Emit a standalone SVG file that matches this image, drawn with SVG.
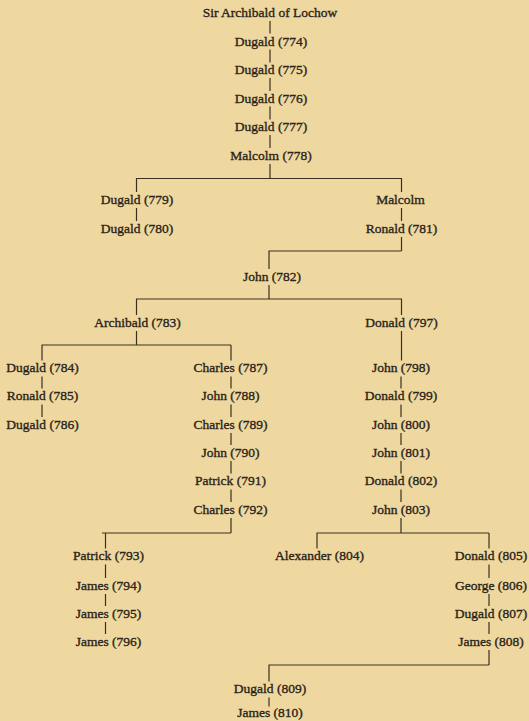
<svg xmlns="http://www.w3.org/2000/svg" width="529" height="721" viewBox="0 0 529 721">
<style>
.bg{fill:#efd8a0}
.n text{font-family:"Liberation Serif","Times New Roman",serif;font-size:13.5px;fill:#2a2419;stroke:#2a2419;stroke-width:0.35;text-anchor:middle}
.c{stroke:#3a3020;stroke-width:1.2;fill:none}
</style>
<rect class="bg" x="0" y="0" width="529" height="721"/>
<g id="connectors" class="c">
<path d="M270 21V33.5M270 49.5V62.5M270 78V91M270 106.5V119.5M270 135V148M270 164V178.5"/>
<path d="M136 178.5H402M136.5 178.5V192M136.5 208V221M401.5 178.5V192M401.5 208V221M401.5 237V251"/>
<path d="M268.5 251H401.5M269 251V269M269 285V299"/>
<path d="M136 299H402M136.5 299V315M136.5 331V345M401.5 299V315M401.5 331V360.5"/>
<path d="M41.5 345H231M42 345V360.5M42 376.5V388.5M42 404.5V417"/>
<path d="M231 345V360.5M231 376.5V388.5M231 404.5V417M231 433V445M231 461V473.5M231 489.5V502M231 518V533"/>
<path d="M401 376.5V388.5M401 404.5V417M401 433V445M401 461V473.5M401 489.5V502M401 518V533"/>
<path d="M102 533H231M105.5 533V548.5M105.5 564.5V578M105.5 594V606M105.5 622V634"/>
<path d="M316.5 533H489M317 533V548.5M489 533V548.5M489 564.5V578M489 594V606M489 622V634M489 650V665"/>
<path d="M268.5 665H489M269 665V681.5M269 697.5V706.5"/>
</g>
<g class="n">
<g id="n-sir-archibald"><text x="270" y="16.5">Sir Archibald of Lochow</text></g>
<g id="n774"><text x="271" y="45.5">Dugald (774)</text></g>
<g id="n775"><text x="271" y="74">Dugald (775)</text></g>
<g id="n776"><text x="271" y="102.5">Dugald (776)</text></g>
<g id="n777"><text x="271" y="131">Dugald (777)</text></g>
<g id="n778"><text x="271" y="159.5">Malcolm (778)</text></g>
<g id="n779"><text x="137" y="203.5">Dugald (779)</text></g>
<g id="n-malcolm"><text x="400.5" y="203.5">Malcolm</text></g>
<g id="n780"><text x="137" y="232.5">Dugald (780)</text></g>
<g id="n781"><text x="401.5" y="232.5">Ronald (781)</text></g>
<g id="n782"><text x="272" y="280.5">John (782)</text></g>
<g id="n783"><text x="137.5" y="326.5">Archibald (783)</text></g>
<g id="n797"><text x="401.5" y="326.5">Donald (797)</text></g>
<g id="n784"><text x="42.5" y="372">Dugald (784)</text></g>
<g id="n785"><text x="42.5" y="400">Ronald (785)</text></g>
<g id="n786"><text x="42.5" y="428.5">Dugald (786)</text></g>
<g id="n787"><text x="230.5" y="372">Charles (787)</text></g>
<g id="n788"><text x="230.5" y="400">John (788)</text></g>
<g id="n789"><text x="230.5" y="428.5">Charles (789)</text></g>
<g id="n790"><text x="230.5" y="456.5">John (790)</text></g>
<g id="n791"><text x="230.5" y="485">Patrick (791)</text></g>
<g id="n792"><text x="230.5" y="513.5">Charles (792)</text></g>
<g id="n798"><text x="401" y="372">John (798)</text></g>
<g id="n799"><text x="401" y="400">Donald (799)</text></g>
<g id="n800"><text x="401" y="428.5">John (800)</text></g>
<g id="n801"><text x="401" y="456.5">John (801)</text></g>
<g id="n802"><text x="401" y="485">Donald (802)</text></g>
<g id="n803"><text x="401" y="513.5">John (803)</text></g>
<g id="n793"><text x="108.5" y="560">Patrick (793)</text></g>
<g id="n794"><text x="108.5" y="589.5">James (794)</text></g>
<g id="n795"><text x="108.5" y="617.5">James (795)</text></g>
<g id="n796"><text x="108.5" y="645.5">James (796)</text></g>
<g id="n804"><text x="319.5" y="560">Alexander (804)</text></g>
<g id="n805"><text x="491" y="560">Donald (805)</text></g>
<g id="n806"><text x="491" y="589.5">George (806)</text></g>
<g id="n807"><text x="491" y="617.5">Dugald (807)</text></g>
<g id="n808"><text x="491" y="645.5">James (808)</text></g>
<g id="n809"><text x="270" y="693">Dugald (809)</text></g>
<g id="n810"><text x="270" y="716.5">James (810)</text></g>
</g>
</svg>
